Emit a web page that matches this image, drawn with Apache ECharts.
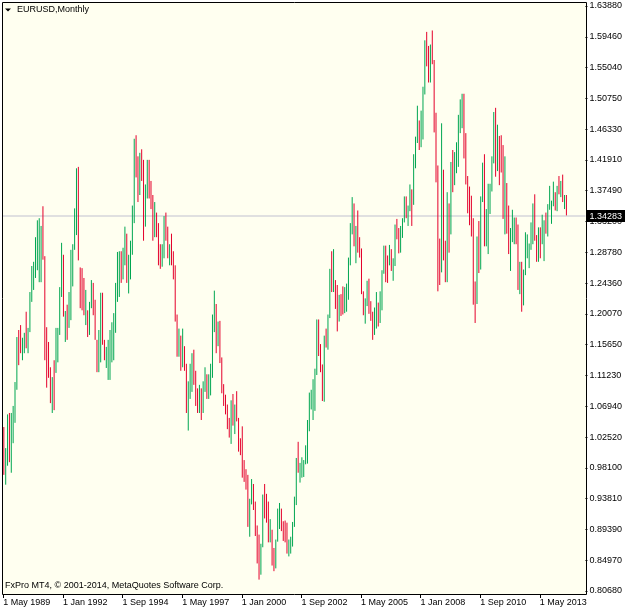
<!DOCTYPE html>
<html>
<head>
<meta charset="utf-8">
<script src="https://cdn.jsdelivr.net/npm/echarts@6.0.0/dist/echarts.min.js"></script>
<style>
  html, body { margin: 0; padding: 0; background: #fff; }
  #chart { width: 625px; height: 611px; }
</style>
</head>
<body>
<div id="chart"></div>
<script>
// EURUSD monthly bars, [open, high, low, close], May 1989 .. Jul 2014
const ohlc = [
  // 1989 (May-Dec)
  [1.035,1.040,0.972,0.985],[0.985,1.010,0.958,1.000],[1.000,1.058,0.985,1.040],[1.040,1.060,0.990,0.995],
  [0.995,1.060,0.975,1.040],[1.040,1.070,1.017,1.060],[1.060,1.104,1.046,1.095],[1.095,1.168,1.093,1.160],
  // 1990
  [1.160,1.178,1.128,1.150],[1.170,1.185,1.145,1.150],[1.150,1.167,1.135,1.160],[1.155,1.174,1.145,1.170],
  [1.195,1.204,1.152,1.165],[1.165,1.181,1.145,1.175],[1.175,1.232,1.175,1.228],[1.228,1.269,1.218,1.255],
  [1.250,1.275,1.235,1.265],[1.265,1.310,1.252,1.305],[1.305,1.334,1.263,1.325],[1.300,1.337,1.246,1.315],
  // 1991
  [1.290,1.326,1.246,1.320],[1.330,1.354,1.278,1.285],[1.280,1.283,1.135,1.145],[1.160,1.182,1.096,1.110],
  [1.140,1.161,1.110,1.120],[1.120,1.125,1.074,1.080],[1.075,1.111,1.060,1.105],[1.120,1.135,1.064,1.080],
  [1.125,1.181,1.117,1.175],[1.140,1.181,1.132,1.170],[1.175,1.239,1.171,1.235],[1.235,1.302,1.225,1.290],
  // 1992
  [1.280,1.285,1.197,1.205],[1.168,1.205,1.161,1.195],[1.200,1.214,1.164,1.170],[1.185,1.232,1.181,1.225],
  [1.200,1.292,1.192,1.285],[1.250,1.300,1.240,1.295],[1.295,1.351,1.292,1.345],[1.345,1.408,1.313,1.400],
  [1.400,1.410,1.277,1.290],[1.265,1.267,1.209,1.215],[1.260,1.266,1.206,1.215],[1.240,1.252,1.199,1.210],
  // 1993
  [1.195,1.235,1.185,1.225],[1.205,1.206,1.168,1.175],[1.180,1.218,1.171,1.210],[1.215,1.249,1.209,1.240],
  [1.240,1.245,1.199,1.205],[1.215,1.221,1.164,1.170],[1.160,1.164,1.118,1.125],[1.125,1.178,1.118,1.170],
  [1.160,1.231,1.132,1.220],[1.225,1.231,1.157,1.165],[1.160,1.164,1.135,1.140],[1.135,1.154,1.124,1.148],
  // 1994
  [1.125,1.164,1.107,1.155],[1.120,1.178,1.107,1.170],[1.150,1.189,1.132,1.180],[1.150,1.202,1.135,1.195],
  [1.180,1.245,1.174,1.235],[1.225,1.289,1.218,1.280],[1.245,1.290,1.225,1.280],[1.280,1.290,1.245,1.265],
  [1.265,1.295,1.250,1.290],[1.290,1.325,1.270,1.310],[1.310,1.315,1.245,1.255],[1.255,1.285,1.230,1.265],
  // 1995
  [1.265,1.305,1.250,1.295],[1.295,1.355,1.285,1.345],[1.345,1.450,1.330,1.420],[1.420,1.455,1.395,1.410],
  [1.410,1.425,1.360,1.385],[1.385,1.430,1.370,1.415],[1.415,1.435,1.390,1.400],[1.400,1.420,1.305,1.330],
  [1.330,1.385,1.325,1.375],[1.375,1.420,1.365,1.405],[1.405,1.420,1.365,1.385],[1.385,1.390,1.350,1.365],
  // 1996
  [1.365,1.370,1.305,1.315],[1.315,1.360,1.310,1.340],[1.340,1.345,1.310,1.320],[1.320,1.330,1.270,1.280],
  [1.280,1.300,1.265,1.275],[1.275,1.300,1.268,1.290],[1.290,1.340,1.280,1.335],[1.335,1.345,1.305,1.320],
  [1.320,1.325,1.280,1.290],[1.290,1.300,1.270,1.295],[1.295,1.315,1.270,1.280],[1.280,1.290,1.250,1.265],
  // 1997
  [1.265,1.270,1.190,1.195],[1.195,1.200,1.140,1.160],[1.160,1.180,1.140,1.165],[1.165,1.170,1.120,1.130],
  [1.130,1.180,1.125,1.150],[1.150,1.155,1.120,1.125],[1.125,1.130,1.060,1.065],[1.065,1.105,1.035,1.085],
  [1.085,1.130,1.080,1.120],[1.120,1.145,1.090,1.135],[1.135,1.150,1.100,1.105],[1.105,1.120,1.070,1.080],
  // 1998
  [1.080,1.095,1.060,1.075],[1.075,1.100,1.060,1.090],[1.090,1.095,1.050,1.065],[1.065,1.105,1.060,1.100],
  [1.100,1.125,1.090,1.110],[1.110,1.115,1.080,1.100],[1.100,1.115,1.080,1.105],[1.105,1.130,1.085,1.125],
  [1.125,1.200,1.110,1.190],[1.190,1.234,1.175,1.210],[1.210,1.215,1.145,1.165],[1.165,1.190,1.155,1.175],
  // 1999
  [1.174,1.191,1.131,1.137],[1.137,1.139,1.088,1.098],[1.098,1.101,1.070,1.078],[1.078,1.086,1.058,1.059],
  [1.059,1.072,1.037,1.043],[1.043,1.053,1.025,1.034],[1.034,1.078,1.016,1.070],[1.070,1.087,1.042,1.056],
  [1.056,1.072,1.030,1.068],[1.068,1.091,1.048,1.052],[1.052,1.053,1.005,1.008],[1.008,1.024,1.000,1.007],
  // 2000
  [1.007,1.041,0.968,0.971],[0.971,0.993,0.962,0.965],[0.965,0.980,0.951,0.955],[0.955,0.972,0.898,0.913],
  [0.913,0.938,0.884,0.933],[0.933,0.966,0.930,0.953],[0.953,0.959,0.922,0.927],[0.927,0.934,0.885,0.888],
  [0.888,0.900,0.846,0.882],[0.882,0.887,0.823,0.848],[0.848,0.874,0.830,0.871],[0.871,0.944,0.869,0.939],
  // 2001
  [0.939,0.959,0.910,0.936],[0.936,0.945,0.904,0.921],[0.921,0.934,0.876,0.880],[0.880,0.909,0.876,0.889],
  [0.889,0.894,0.843,0.848],[0.848,0.868,0.835,0.847],[0.847,0.880,0.839,0.877],[0.877,0.924,0.877,0.911],
  [0.911,0.932,0.895,0.913],[0.913,0.924,0.892,0.903],[0.903,0.906,0.878,0.890],[0.890,0.907,0.876,0.889],
  // 2002
  [0.889,0.904,0.860,0.861],[0.861,0.880,0.856,0.870],[0.870,0.884,0.860,0.872],[0.872,0.905,0.870,0.900],
  [0.900,0.941,0.898,0.933],[0.933,0.996,0.929,0.987],[0.987,1.019,0.975,0.979],[0.979,0.989,0.961,0.980],
  [0.980,0.997,0.968,0.987],[0.987,0.993,0.969,0.988],[0.988,1.014,0.987,0.993],[0.993,1.050,0.988,1.049],
  // 2003
  [1.049,1.089,1.034,1.073],[1.073,1.093,1.065,1.078],[1.078,1.108,1.050,1.091],[1.091,1.123,1.063,1.117],
  [1.117,1.193,1.114,1.180],[1.180,1.193,1.141,1.150],[1.150,1.158,1.118,1.123],[1.123,1.129,1.077,1.099],
  [1.099,1.170,1.076,1.164],[1.164,1.180,1.153,1.159],[1.159,1.200,1.150,1.199],[1.199,1.265,1.195,1.259],
  // 2004
  [1.259,1.290,1.232,1.246],[1.246,1.293,1.232,1.248],[1.248,1.249,1.208,1.230],[1.230,1.242,1.176,1.197],
  [1.197,1.228,1.190,1.220],[1.220,1.229,1.198,1.217],[1.217,1.240,1.200,1.202],[1.202,1.239,1.202,1.217],
  [1.217,1.244,1.204,1.242],[1.242,1.281,1.221,1.277],[1.277,1.330,1.270,1.327],[1.327,1.367,1.314,1.356],
  // 2005
  [1.356,1.358,1.297,1.303],[1.303,1.326,1.273,1.325],[1.325,1.348,1.288,1.296],[1.296,1.310,1.281,1.287],
  [1.287,1.294,1.229,1.230],[1.230,1.233,1.199,1.210],[1.210,1.223,1.187,1.213],[1.213,1.248,1.212,1.233],
  [1.233,1.251,1.201,1.202],[1.202,1.219,1.191,1.199],[1.199,1.204,1.164,1.179],[1.179,1.210,1.171,1.184],
  // 2006
  [1.184,1.232,1.180,1.215],[1.215,1.217,1.183,1.192],[1.192,1.233,1.188,1.211],[1.211,1.263,1.206,1.262],
  [1.262,1.298,1.258,1.281],[1.281,1.298,1.246,1.279],[1.279,1.284,1.245,1.277],[1.277,1.299,1.270,1.282],
  [1.282,1.293,1.262,1.268],[1.268,1.280,1.248,1.275],[1.275,1.328,1.269,1.325],[1.325,1.336,1.307,1.320],
  // 2007
  [1.320,1.323,1.287,1.302],[1.302,1.326,1.288,1.323],[1.323,1.337,1.309,1.335],[1.335,1.368,1.331,1.366],
  [1.366,1.368,1.337,1.345],[1.345,1.355,1.326,1.354],[1.354,1.385,1.347,1.370],[1.370,1.378,1.326,1.364],
  [1.364,1.428,1.356,1.426],[1.426,1.453,1.408,1.448],[1.448,1.497,1.444,1.463],[1.463,1.476,1.434,1.459],
  // 2008
  [1.459,1.490,1.438,1.484],[1.484,1.524,1.449,1.518],[1.518,1.590,1.513,1.579],[1.579,1.602,1.553,1.560],
  [1.560,1.582,1.530,1.555],[1.555,1.584,1.530,1.576],[1.576,1.604,1.556,1.560],[1.560,1.562,1.459,1.467],
  [1.467,1.487,1.388,1.408],[1.408,1.412,1.233,1.272],[1.272,1.308,1.242,1.270],[1.270,1.472,1.260,1.397],
  // 2009
  [1.397,1.406,1.277,1.280],[1.280,1.305,1.246,1.266],[1.266,1.374,1.246,1.324],[1.324,1.358,1.288,1.323],
  [1.323,1.417,1.314,1.415],[1.415,1.434,1.374,1.403],[1.403,1.431,1.384,1.425],[1.425,1.445,1.401,1.433],
  [1.433,1.484,1.410,1.464],[1.464,1.506,1.458,1.472],[1.472,1.514,1.465,1.500],[1.500,1.514,1.422,1.432],
  // 2010
  [1.432,1.458,1.385,1.387],[1.387,1.397,1.344,1.363],[1.363,1.382,1.327,1.351],[1.351,1.369,1.311,1.329],
  [1.329,1.337,1.214,1.227],[1.227,1.247,1.188,1.223],[1.223,1.311,1.215,1.305],[1.305,1.333,1.259,1.268],
  [1.268,1.368,1.264,1.363],[1.363,1.416,1.360,1.394],[1.394,1.428,1.297,1.299],[1.299,1.350,1.297,1.338],
  // 2011
  [1.338,1.386,1.286,1.369],[1.369,1.386,1.343,1.381],[1.381,1.425,1.375,1.417],[1.417,1.488,1.415,1.481],
  [1.481,1.494,1.396,1.439],[1.439,1.470,1.404,1.450],[1.450,1.454,1.384,1.439],[1.439,1.455,1.402,1.437],
  [1.437,1.441,1.336,1.339],[1.339,1.425,1.314,1.386],[1.386,1.387,1.315,1.344],[1.344,1.355,1.286,1.295],
  // 2012
  [1.295,1.323,1.262,1.308],[1.308,1.349,1.303,1.334],[1.334,1.338,1.300,1.335],[1.335,1.338,1.300,1.324],
  [1.324,1.328,1.235,1.237],[1.237,1.275,1.229,1.267],[1.267,1.275,1.204,1.230],[1.230,1.264,1.213,1.258],
  [1.258,1.317,1.256,1.286],[1.286,1.314,1.280,1.296],[1.296,1.301,1.266,1.299],[1.299,1.331,1.292,1.319],
  // 2013
  [1.319,1.358,1.300,1.358],[1.358,1.371,1.305,1.306],[1.306,1.313,1.275,1.282],[1.282,1.324,1.275,1.317],
  [1.317,1.324,1.280,1.300],[1.300,1.342,1.300,1.301],[1.301,1.334,1.276,1.330],[1.330,1.345,1.315,1.322],
  [1.322,1.357,1.311,1.352],[1.352,1.383,1.349,1.358],[1.358,1.362,1.329,1.359],[1.359,1.389,1.354,1.374],
  // 2014 (Jan-Jul)
  [1.374,1.374,1.348,1.349],[1.349,1.383,1.347,1.380],[1.380,1.397,1.371,1.377],[1.377,1.390,1.367,1.387],
  [1.387,1.399,1.360,1.363],[1.363,1.370,1.350,1.369],[1.369,1.370,1.341,1.34283]
];

// price scale labels, bottom to top
const yLabels = [
  "0.80680","0.84970","0.89390","0.93810","0.98100","1.02520","1.06940",
  "1.11230","1.15650","1.20070","1.24360","1.28780","1.33200","1.37490",
  "1.41910","1.46330","1.50750","1.55040","1.59460","1.63880"
];
const yMin = 0.8068;
const yMax = 1.6388;
const lastPrice = 1.34283;

const monthNames = ["Jan","Feb","Mar","Apr","May","Jun","Jul","Aug","Sep","Oct","Nov","Dec"];
const startYear = 1989;
const startMonth = 4;   // May
const emptyMonths = 10; // blank space right of the last bar
const labelEvery = 32;

const months = [];
for (let i = 0; i < ohlc.length + emptyMonths; i++) {
  const m = startMonth + i;
  months.push("1 " + monthNames[m % 12] + " " + (startYear + Math.floor(m / 12)));
}

const FONT = "'Liberation Sans', Arial, sans-serif";
const BULL = "#00a651";
const BEAR = "#e4002b";

function renderBar(params, api) {
  const idx = api.value(0);
  const hi = api.coord([idx, api.value(2)]);
  const lo = api.coord([idx, api.value(3)]);
  const up = api.value(4) >= api.value(1);
  return {
    type: "line",
    shape: { x1: hi[0] + 0.5, y1: hi[1], x2: lo[0] + 0.5, y2: lo[1] },
    style: { stroke: up ? BULL : BEAR, lineWidth: 1 },
  };
}

const chart = echarts.init(document.getElementById("chart"));
chart.setOption({
  animation: false,
  backgroundColor: "#ffffff",
  textStyle: { fontFamily: FONT },
  graphic: [
    { type: "rect", z: -1, shape: { x: 2, y: 2, width: 585, height: 593 }, style: { fill: "#fffff0" } },
    { type: "rect", z: 10, silent: true, shape: { x: 2.5, y: 2.5, width: 584, height: 592 },
      style: { fill: null, stroke: "#000", lineWidth: 1 } },
    { type: "polygon", z: 10, shape: { points: [[5, 8.5], [11, 8.5], [8, 11.5]] }, style: { fill: "#000" } },
    { type: "text", z: 10, x: 17, y: 10,
      style: { text: "EURUSD,Monthly", font: "9px " + FONT, fill: "#000", verticalAlign: "middle" } },
    { type: "text", z: 10, x: 5, y: 586,
      style: { text: "FxPro MT4, \u00a9 2001-2014, MetaQuotes Software Corp.", font: "9px " + FONT,
               fill: "#000", verticalAlign: "middle" } },
  ],
  grid: { left: 2.4, right: 38.6, top: 6, bottom: 20 },
  xAxis: {
    type: "category",
    data: months,
    boundaryGap: true,
    offset: 3,
    axisLine: { show: false },
    axisTick: {
      show: true,
      alignWithLabel: true,
      interval: (i) => i % labelEvery === 0,
      length: 4,
      lineStyle: { color: "#000" },
    },
    axisLabel: {
      interval: (i) => i % labelEvery === 0,
      align: "left",
      margin: 4,
      color: "#000",
      fontSize: 9,
      fontFamily: FONT,
    },
    splitLine: { show: false },
  },
  yAxis: [
    { type: "value", min: yMin, max: yMax, show: false },
    {
      type: "category",
      data: yLabels,
      position: "right",
      boundaryGap: false,
      axisLine: { show: false },
      axisTick: { show: true, interval: 0, length: 2, lineStyle: { color: "#000" } },
      axisLabel: { interval: 0, margin: 4, color: "#000", fontSize: 9, fontFamily: FONT },
      splitLine: { show: false },
    },
  ],
  series: [
    {
      type: "custom",
      z: 2,
      xAxisIndex: 0,
      yAxisIndex: 0,
      renderItem: renderBar,
      encode: { x: 0, y: [1, 2, 3, 4] },
      data: ohlc.map((r, i) => [i, r[0], r[1], r[2], r[3]]),
      markLine: {
        z: 1,
        silent: true,
        symbol: ["none", "none"],
        lineStyle: { color: "#e0e0e0", width: 2, type: "solid" },
        label: {
          position: "end",
          distance: 1,
          formatter: () => lastPrice.toFixed(5),
          color: "#fff",
          backgroundColor: "#000",
          padding: [2, 3, 1, 3],
          fontSize: 9,
          fontFamily: FONT,
        },
        data: [{ yAxis: lastPrice }],
      },
    },
  ],
});
</script>
</body>
</html>
